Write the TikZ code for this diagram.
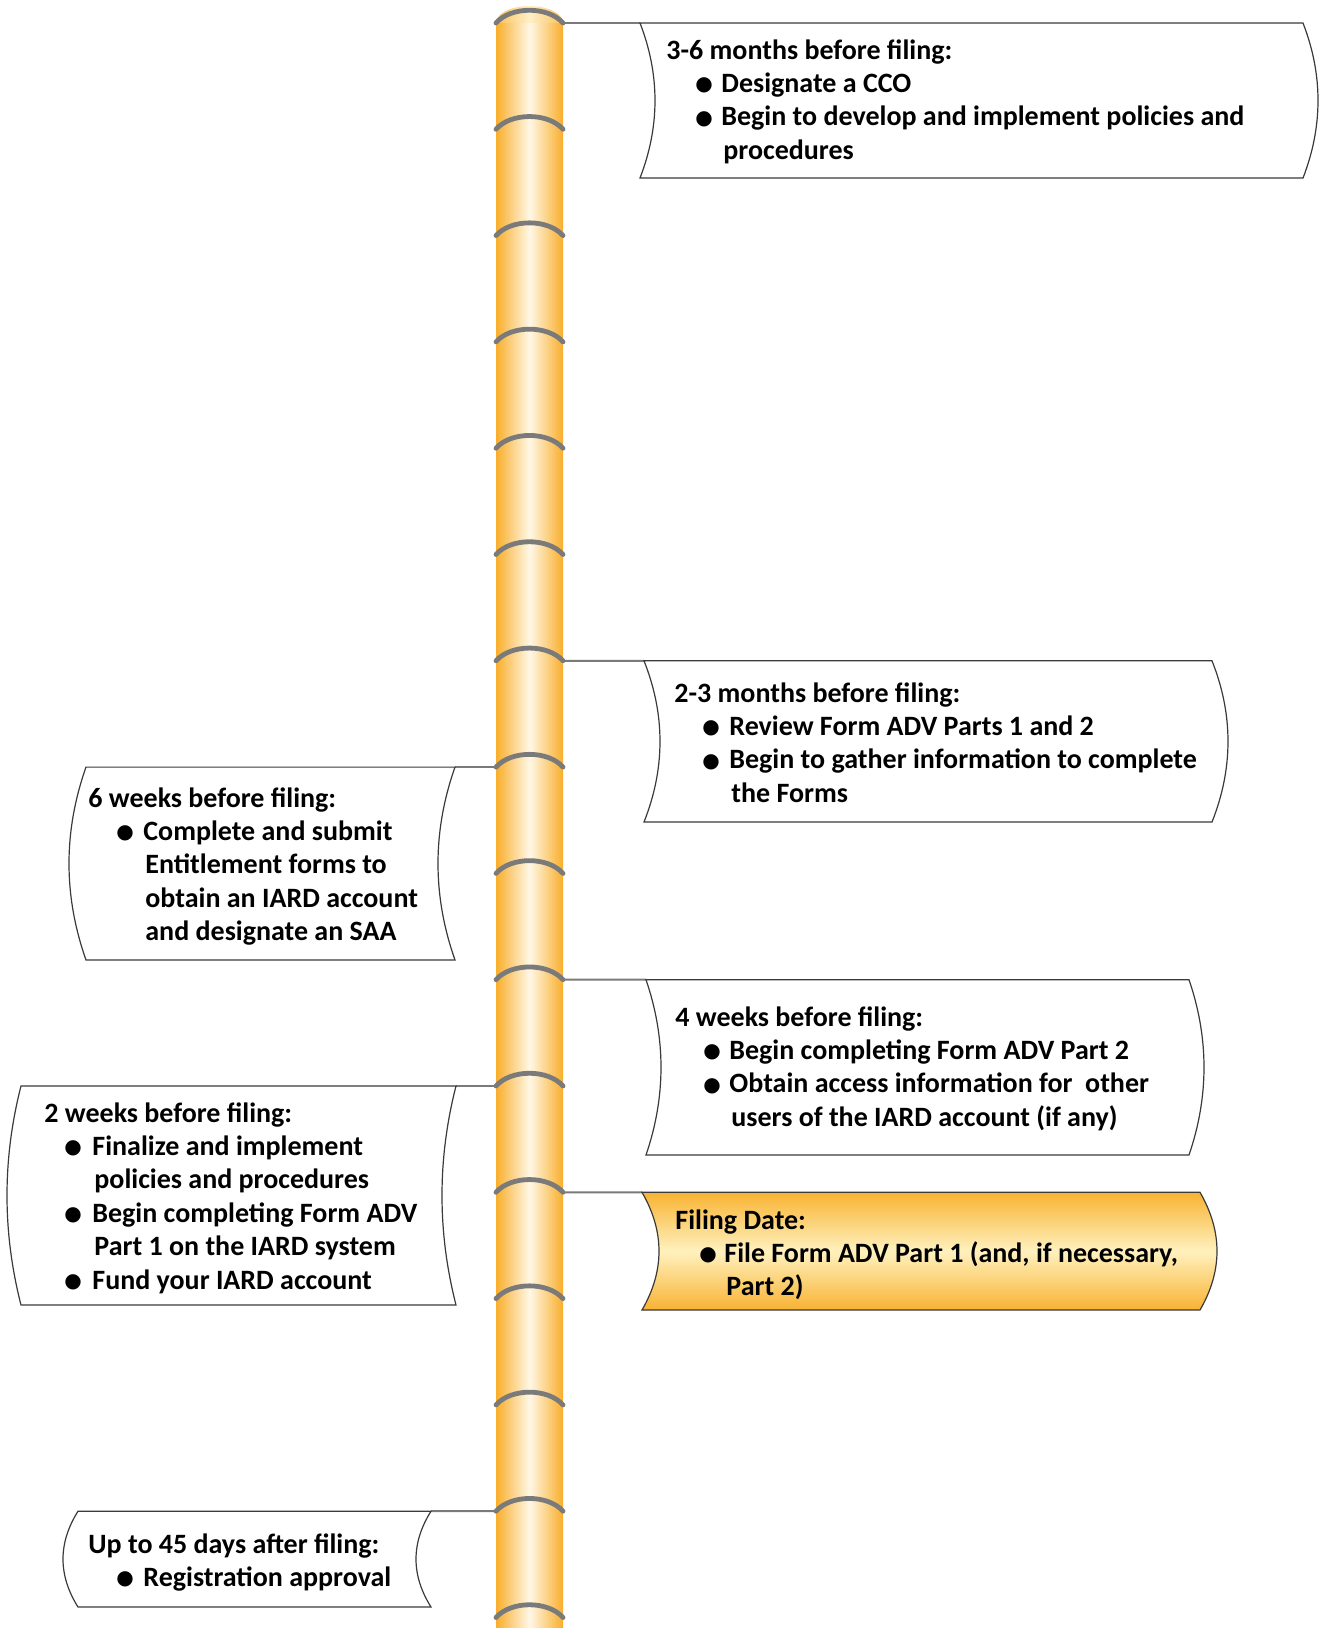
\documentclass[tikz,border=0pt]{standalone}
\usepackage{fontspec}
\setmainfont{Carlito}
\newfontfamily\dotfont{DejaVu Sans}
\usetikzlibrary{positioning}
\definecolor{BarEdge}{HTML}{F9AE2C}
\definecolor{BarMid}{HTML}{FFF8E6}
\definecolor{CapEdge}{HTML}{F9C15A}
\definecolor{CapMid}{HTML}{FFEFC8}
\definecolor{Seam}{HTML}{7A7A7A}
\definecolor{Frame}{HTML}{3A3A3A}
\definecolor{Gold}{HTML}{F8B332}
\definecolor{GoldPale}{HTML}{FFF1BE}
\tikzset{
  seam/.style={draw=Seam,line width=2.4pt,line cap=round},
  link/.style={draw=Seam,line width=1pt},
  card/.style={draw=Frame,line width=.6pt,fill=white},
  hotcard/.style={draw=Frame,line width=.6pt,top color=Gold,bottom color=Gold,middle color=GoldPale},
  txt/.style={anchor=base west,inner sep=0pt,font=\fontsize{14}{16.7}\selectfont\bfseries}
}
\newlength\bulskip \newlength\txtskip
\newcommand\dotmark{\raisebox{0.8pt}{\dotfont\fontsize{10}{10}\selectfont ●}}
\newcommand\bi[1]{\hspace*{\bulskip}\makebox[\dimexpr\txtskip-\bulskip\relax][l]{\dotmark}#1}
\newcommand\ct[1]{\hspace*{\dimexpr\txtskip+1pt\relax}#1}
\newcommand\lines[3]{\setlength\bulskip{#1}\setlength\txtskip{#2}%
  \begin{tabular}[t]{@{}l@{}}#3\end{tabular}}
% box with both sides bowed: [style] left, right, top, bottom, bow
\newcommand\wavebox[6][card]{%
  \path[#1] (#2,#4) -- (#3,#4)
    .. controls ({#3+1.333*#6},{#4+(#5-#4)/3}) and ({#3+1.333*#6},{#5-(#5-#4)/3}) .. (#3,#5)
    -- (#2,#5)
    .. controls ({#2+1.333*#6},{#5-(#5-#4)/3}) and ({#2+1.333*#6},{#4+(#5-#4)/3}) .. (#2,#4) -- cycle;}

\begin{document}
\begin{tikzpicture}[x=0.5pt,y=-0.5pt]
  \useasboundingbox (0,0) rectangle (1327,1628);
  % the pole
  \shade[left color=CapEdge,right color=CapEdge,middle color=CapMid] (529.5,23) ellipse [x radius=33.5,y radius=17];
  \shade[left color=BarEdge,right color=BarEdge,middle color=BarMid] (496,23) rectangle (563,1628);
  \foreach \k in {0,...,15}{
    \pgfmathsetmacro\yy{23+106.3*\k}
    \coordinate (bar\k L) at (496,\yy);
    \coordinate (bar\k R) at (563,\yy);
    \draw[seam] (bar\k L) .. controls (511,\yy-17) and (548,\yy-17) .. (bar\k R);
  }
  % box corners that the links reach
  \coordinate (cA) at (640,23);
  \coordinate (cB) at (644,660.8);
  \coordinate (cC) at (455,767.1);
  \coordinate (cD) at (646,979.7);
  \coordinate (cE) at (456,1086);
  \coordinate (cF) at (642,1192.3);
  \coordinate (cG) at (431,1511.2);
  \draw[link] (bar0R) -- (cA);
  \draw[link] (bar6R) -- (cB);
  \draw[link] (bar7L) -- (cC);
  \draw[link] (bar9R) -- (cD);
  \draw[link] (bar10L) -- (cE);
  \draw[link] (bar11R) -- (cF);
  \draw[link] (bar14L) -- (cG);
  % boxes
  \wavebox{640}{1303}{23}{178}{15}
  \wavebox{644}{1212}{660.8}{822}{16}
  \wavebox{86}{455}{767.1}{960}{-17}
  \wavebox{646}{1189}{979.7}{1155}{15}
  \wavebox{21}{456}{1086}{1305}{-14}
  \wavebox[hotcard]{642}{1200}{1192.3}{1310}{17}
  \wavebox{78}{431}{1511.2}{1607}{-15}
  % texts
  \node[txt] (tA) at (666,59) {\lines{14.5pt}{27.5pt}{3-6 months before filing:\\
    \bi{Designate a CCO}\\
    \bi{Begin to develop and implement policies and}\\
    \ct{procedures}}};
  \node[txt] (tB) at (674,702) {\lines{14pt}{27.5pt}{2-3 months before filing:\\
    \bi{Review Form ADV Parts 1 and 2}\\
    \bi{Begin to gather information to complete}\\
    \ct{the Forms}}};
  \node[txt] (tC) at (88,807) {\lines{14pt}{27.5pt}{6 weeks before filing:\\
    \bi{Complete and submit}\\
    \ct{Entitlement forms to}\\
    \ct{obtain an IARD account}\\
    \ct{and designate an SAA}}};
  \node[txt] (tD) at (675,1026) {\lines{14pt}{27pt}{4 weeks before filing:\\
    \bi{Begin completing Form ADV Part 2}\\
    \bi{Obtain access information for \ other}\\
    \ct{users of the IARD account (if any)}}};
  \node[txt] (tE) at (44,1122) {\lines{10pt}{24pt}{2 weeks before filing:\\
    \bi{Finalize and implement}\\
    \ct{policies and procedures}\\
    \bi{Begin completing Form ADV}\\
    \ct{Part 1 on the IARD system}\\
    \bi{Fund your IARD account}}};
  \node[txt] (tF) at (675,1229) {\lines{12pt}{24.5pt}{Filing Date:\\
    \bi{File Form ADV Part 1 (and, if necessary,}\\
    \ct{Part 2)}}};
  \node[txt] (tG) at (88,1553) {\lines{14pt}{27.5pt}{Up to 45 days after filing:\\
    \bi{Registration approval}}};
\end{tikzpicture}
\end{document}
